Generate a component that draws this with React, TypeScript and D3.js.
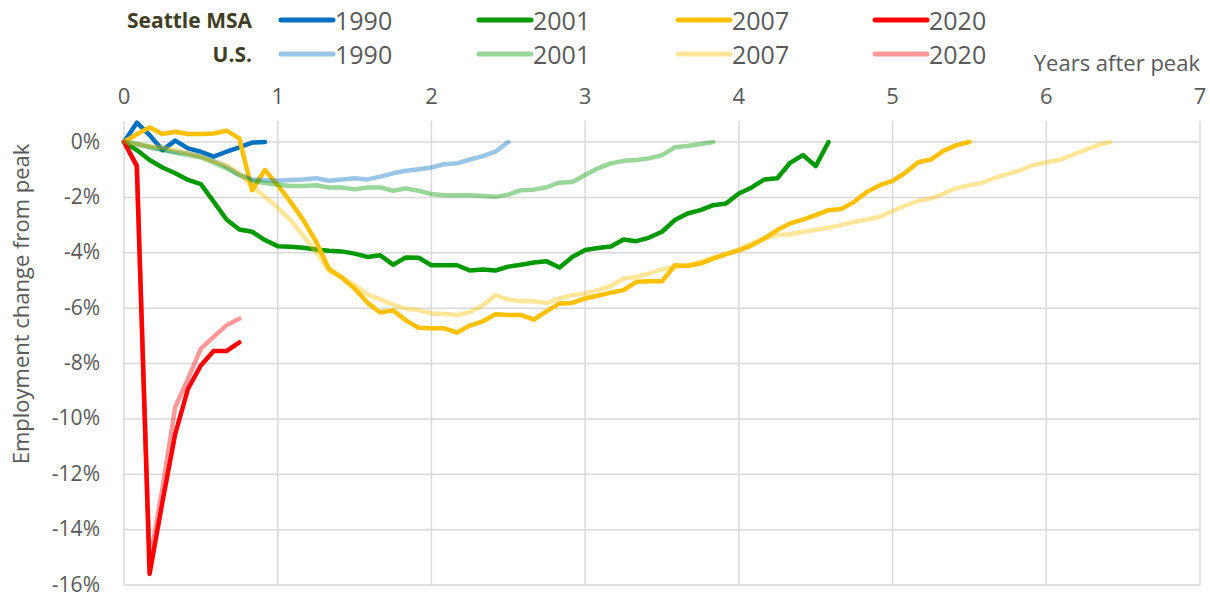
import * as d3 from "d3";

// months after the pre-recession employment peak, values in % change from peak
const seattle1990 = [0, 0.7, 0.25, -0.29, 0.05, -0.23, -0.35, -0.53, -0.35, -0.19, -0.02, 0];
const us1990 = [
  0, -0.07, -0.17, -0.27, -0.35, -0.41, -0.53, -0.68, -0.89, -1.19, -1.35, -1.38, -1.4, -1.37, -1.35, -1.31,
  -1.4, -1.35, -1.31, -1.35, -1.25, -1.13, -1.04, -0.98, -0.92, -0.8, -0.77, -0.63, -0.51, -0.35, 0,
];
const seattle2001 = [
  0, -0.29, -0.65, -0.92, -1.13, -1.37, -1.52, -2.15, -2.8, -3.16, -3.24, -3.54, -3.76, -3.78, -3.82, -3.88,
  -3.93, -3.95, -4.03, -4.15, -4.09, -4.43, -4.17, -4.18, -4.45, -4.45, -4.45, -4.64, -4.6, -4.64, -4.5,
  -4.43, -4.35, -4.31, -4.53, -4.15, -3.9, -3.83, -3.77, -3.52, -3.58, -3.45, -3.24, -2.82, -2.58, -2.46,
  -2.28, -2.22, -1.86, -1.64, -1.35, -1.31, -0.75, -0.47, -0.87, 0,
];
const us2001 = [
  0, -0.07, -0.19, -0.29, -0.39, -0.47, -0.55, -0.75, -0.95, -1.19, -1.4, -1.48, -1.54, -1.59, -1.59, -1.56,
  -1.64, -1.64, -1.71, -1.64, -1.64, -1.76, -1.68, -1.76, -1.88, -1.92, -1.92, -1.92, -1.95, -1.98, -1.9,
  -1.74, -1.72, -1.63, -1.47, -1.44, -1.19, -0.95, -0.77, -0.68, -0.65, -0.59, -0.47, -0.19, -0.14, -0.07, 0,
];
const seattle2007 = [
  0, 0.28, 0.53, 0.29, 0.37, 0.29, 0.29, 0.31, 0.41, 0.13, -1.74, -1.01, -1.56, -2.16, -2.82, -3.6, -4.58,
  -4.9, -5.29, -5.8, -6.16, -6.08, -6.44, -6.71, -6.73, -6.73, -6.88, -6.63, -6.48, -6.22, -6.25, -6.25,
  -6.41, -6.11, -5.83, -5.81, -5.65, -5.55, -5.44, -5.35, -5.05, -5.03, -5.03, -4.45, -4.48, -4.39, -4.21,
  -4.05, -3.91, -3.73, -3.48, -3.18, -2.94, -2.8, -2.64, -2.46, -2.42, -2.16, -1.8, -1.56, -1.4, -1.11,
  -0.73, -0.63, -0.31, -0.11, 0,
];
const us2007 = [
  0, -0.08, -0.15, -0.2, -0.29, -0.41, -0.53, -0.71, -0.83, -1.13, -1.6, -1.98, -2.37, -2.82, -3.39, -3.97,
  -4.66, -4.87, -5.17, -5.5, -5.68, -5.87, -6.02, -6.07, -6.19, -6.21, -6.25, -6.14, -5.9, -5.53, -5.69,
  -5.75, -5.75, -5.81, -5.65, -5.53, -5.47, -5.35, -5.2, -4.93, -4.87, -4.75, -4.6, -4.51, -4.45, -4.33,
  -4.17, -4.05, -3.88, -3.66, -3.48, -3.36, -3.33, -3.24, -3.18, -3.09, -3.0, -2.89, -2.8, -2.7, -2.49,
  -2.3, -2.12, -2.04, -1.86, -1.67, -1.56, -1.47, -1.29, -1.16, -1.01, -0.83, -0.73, -0.65, -0.47, -0.29,
  -0.11, 0,
];
const seattle2020 = [0, -0.85, -15.6, -13.0, -10.54, -8.91, -8.07, -7.55, -7.55, -7.24];
const us2020 = [0, -0.9, -15.2, -12.5, -9.57, -8.55, -7.46, -7.04, -6.62, -6.38];

const recessions = ["1990", "2001", "2007", "2020"];
const seriesColors = ["#0070C0", "#009A00", "#FFC000", "#FF0000"];
const seattleSeries = [seattle1990, seattle2001, seattle2007, seattle2020];
const usSeries = [us1990, us2001, us2007, us2020];

const yearTicks = [0, 1, 2, 3, 4, 5, 6, 7];
const pctTicks = [0, -2, -4, -6, -8, -10, -12, -14, -16];

const width = 1210;
const height = 597;
const font = "'Open Sans', sans-serif";
const grey = "#595959";

export default function App() {
  const x = d3.scaleLinear().domain([0, 7]).range([124, 1200]);
  const y = d3.scaleLinear().domain([-16, 0.76]).range([585, 121]);

  const line = d3
    .line<number>()
    .x((_, i) => x(i / 12))
    .y((d) => y(d));

  // legend layout
  const legendX = [281, 479, 678, 875];
  const rows = [
    { label: "Seattle MSA", y: 20, opacity: 1 },
    { label: "U.S.", y: 54, opacity: 0.4 },
  ];

  return (
    <div style={{ position: "absolute", left: 0, top: 0 }}>
      <svg width={width} height={height} style={{ display: "block", fontFamily: font }}>
        <rect width={width} height={height} fill="#fff" />

        {/* grid */}
        {pctTicks.map((t) => (
          <line key={"h" + t} x1={x(0)} x2={x(7)} y1={y(t)} y2={y(t)} stroke="#D9D9D9" strokeWidth={1.5} />
        ))}
        {yearTicks.map((t) => (
          <line key={"v" + t} x1={x(t)} x2={x(t)} y1={y(0.76)} y2={y(-16)} stroke="#D9D9D9" strokeWidth={1.5} />
        ))}

        {/* tick labels */}
        {yearTicks.map((t) => (
          <text key={"xt" + t} x={x(t)} y={95} textAnchor="middle" dominantBaseline="central" fontSize={22} fill={grey}>
            {t}
          </text>
        ))}
        {pctTicks.map((t) => (
          <text key={"yt" + t} x={100} y={y(t) - 1.5} textAnchor="end" dominantBaseline="central" fontSize={21} fill={grey}>
            {t + "%"}
          </text>
        ))}

        <text
          transform="translate(20,304) rotate(-90)"
          textAnchor="middle"
          dominantBaseline="central"
          fontSize={22}
          fill={grey}
        >
          Employment change from peak
        </text>
        <text x={1200} y={62} textAnchor="end" dominantBaseline="central" fontSize={22} fill={grey}>
          Years after peak
        </text>

        {/* series */}
        {seattleSeries.map((s, i) => (
          <path
            key={"s" + i}
            d={line(s) || ""}
            fill="none"
            stroke={seriesColors[i]}
            strokeWidth={4.5}
            strokeLinejoin="round"
            strokeLinecap="round"
          />
        ))}
        {usSeries.map((s, i) => (
          <path
            key={"u" + i}
            d={line(s) || ""}
            fill="none"
            stroke={seriesColors[i]}
            strokeOpacity={0.4}
            strokeWidth={4.5}
            strokeLinejoin="round"
            strokeLinecap="round"
          />
        ))}

        {/* legend */}
        {rows.map((r) => (
          <g key={r.label}>
            <text
              x={252}
              y={r.y}
              textAnchor="end"
              dominantBaseline="central"
              fontSize={21}
              fontWeight="bold"
              fill="#403E24"
            >
              {r.label}
            </text>
            {recessions.map((name, i) => (
              <g key={name}>
                <line
                  x1={legendX[i]}
                  x2={legendX[i] + 52}
                  y1={r.y}
                  y2={r.y}
                  stroke={seriesColors[i]}
                  strokeOpacity={r.opacity}
                  strokeWidth={5}
                  strokeLinecap="round"
                />
                <text
                  x={legendX[i] + 54}
                  y={r.y}
                  dominantBaseline="central"
                  fontSize={25}
                  fill={grey}
                >
                  {name}
                </text>
              </g>
            ))}
          </g>
        ))}
      </svg>
    </div>
  );
}
